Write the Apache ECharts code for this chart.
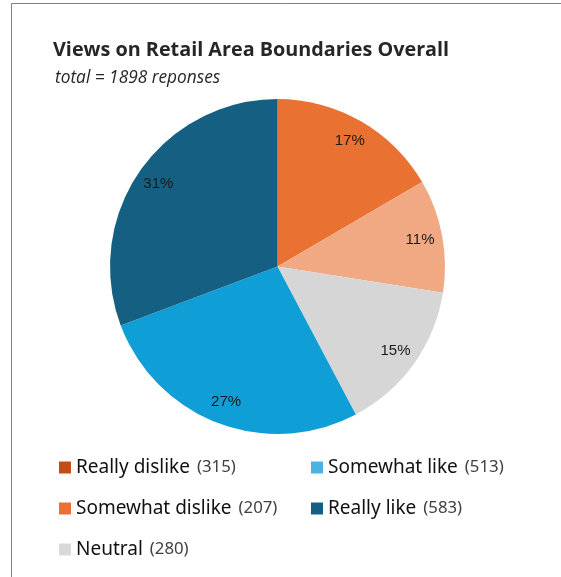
<!DOCTYPE html>
<html>
<head>
<meta charset="utf-8">
<script src="https://cdn.jsdelivr.net/npm/echarts@6/dist/echarts.min.js"></script>
<style>
  html, body { margin: 0; padding: 0; background: #fff; }
  #chart { width: 561px; height: 577px; }
</style>
</head>
<body>
<div id="chart"></div>
<script>
// Survey responses by category
const categories = ['Really dislike', 'Somewhat dislike', 'Neutral', 'Somewhat like', 'Really like'];
const responses = [315, 207, 280, 513, 583];
const sliceColors = ['#E97132', '#F1A983', '#D6D6D6', '#0F9ED5', '#156082'];
const legendColors = ['#C04F15', '#E97132', '#D9D9D9', '#4AB3E2', '#156082'];

const total = responses.reduce((a, b) => a + b, 0);
const pieData = categories.map((name, i) => ({
  name: name,
  value: responses[i],
  itemStyle: { color: sliceColors[i] }
}));

const chart = echarts.init(document.getElementById('chart'));

function legendFor(names, left) {
  return {
    orient: 'vertical',
    left: left,
    top: 453,
    icon: 'rect',
    itemWidth: 12,
    itemHeight: 12,
    itemGap: 22,
    selectedMode: false,
    data: names.map(n => ({
      name: n,
      itemStyle: { color: legendColors[categories.indexOf(n)] }
    })),
    formatter: function (name) {
      const v = responses[categories.indexOf(name)];
      return '{n|' + name + '}{v|(' + v + ')}';
    },
    textStyle: {
      padding: [0, 0, 0, 0],
      rich: {
        n: { fontFamily: 'Noto Sans', fontSize: 19, color: '#111', lineHeight: 24, padding: [0, 7, 0, 0] },
        v: { fontFamily: 'Noto Sans', fontSize: 16.8, color: '#404040', lineHeight: 24 }
      }
    }
  };
}

chart.setOption({
  animation: false,
  backgroundColor: '#fff',
  title: [
    {
      text: 'Views on Retail Area Boundaries Overall',
      left: 48,
      top: 33,
      textStyle: { fontFamily: 'Open Sans', fontWeight: 'bold', fontSize: 19.8, color: '#262626', lineHeight: 24 }
    },
    {
      text: 'total = ' + total + ' reponses',
      left: 50,
      top: 62,
      textStyle: { fontFamily: 'Open Sans', fontStyle: 'italic', fontWeight: 'normal', fontSize: 17.3, color: '#262626', lineHeight: 22 }
    }
  ],
  graphic: [
    {
      type: 'rect',
      shape: { x: 11.5, y: 3.5, width: 700, height: 700 },
      style: { fill: 'none', stroke: '#7f7f7f', lineWidth: 1 },
      silent: true
    }
  ],
  legend: [
    legendFor(['Really dislike', 'Somewhat dislike', 'Neutral'], 54),
    legendFor(['Somewhat like', 'Really like'], 306)
  ],
  series: [
    {
      type: 'pie',
      center: [277.5, 266.5],
      radius: [0, 167.5],
      startAngle: 90,
      clockwise: true,
      label: { show: false },
      labelLine: { show: false },
      emphasis: { disabled: true },
      data: pieData
    },
    {
      // label ring: places percentages near the outer edge of each slice
      type: 'pie',
      center: [277.5, 266.5],
      radius: [116.5, 167.5],
      startAngle: 90,
      clockwise: true,
      silent: true,
      itemStyle: { color: 'rgba(0,0,0,0)' },
      label: {
        show: true,
        position: 'inside',
        formatter: p => Math.round(p.percent) + '%',
        fontFamily: 'Liberation Sans',
        fontSize: 15,
        color: '#1a1a1a'
      },
      labelLine: { show: false },
      emphasis: { disabled: true },
      data: categories.map((name, i) => ({ name: name, value: responses[i] }))
    }
  ]
});
</script>
</body>
</html>
